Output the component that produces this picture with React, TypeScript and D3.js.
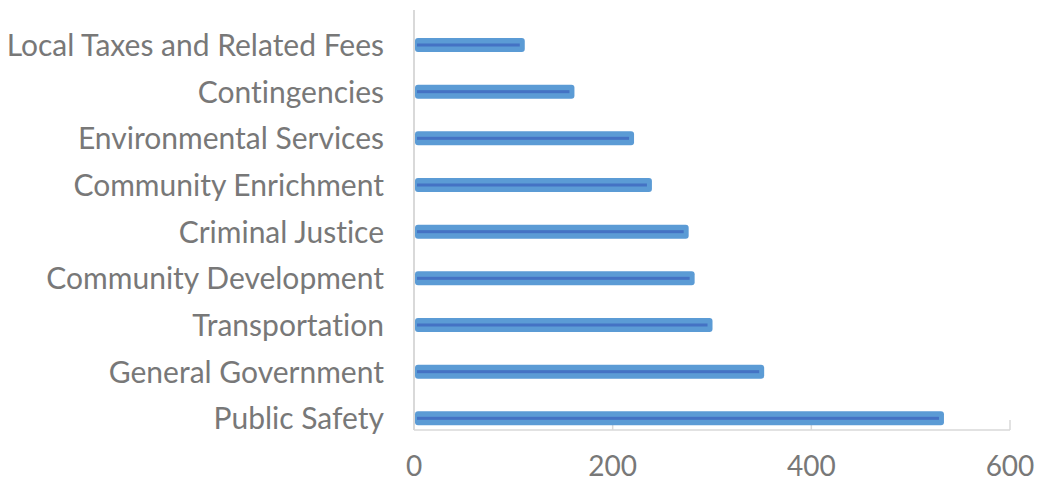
import React from "react";
import * as d3 from "d3";

const categories = [
  "Local Taxes and Related Fees",
  "Contingencies",
  "Environmental Services",
  "Community Enrichment",
  "Criminal Justice",
  "Community Development",
  "Transportation",
  "General Government",
  "Public Safety",
];
const values = [109, 159, 219, 237, 274, 280, 298, 350, 531];
const xTicks = [0, 200, 400, 600];

const W = 1040;
const H = 487;
const left = 414;
const right = 1010;
const top = 10;
const bottom = 430;
const font = "Lato, 'Open Sans', sans-serif";
const textColor = "#787878";

export default function App() {
  const x = d3.scaleLinear().domain([0, 600]).range([left, right]);
  const y = d3.scaleBand<string>().domain(categories).range([top, bottom]).padding(0);
  const bw = y.bandwidth();
  const barH = 14;
  const textStyle: React.CSSProperties = { fontVariantLigatures: "none", fontFeatureSettings: '"liga" 0, "clig" 0' };

  return (
    <svg width={W} height={H} style={{ position: "absolute", left: 0, top: 0 }}>
      {xTicks.slice(1).map((t) => (
        <line key={"tk" + t} x1={x(t)} x2={x(t)} y1={bottom - 10} y2={bottom} stroke="#d9d9d9" strokeWidth={1.5} />
      ))}
      <line x1={left} x2={right} y1={bottom} y2={bottom} stroke="#d9d9d9" strokeWidth={1.5} />
      <line x1={left} x2={left} y1={top} y2={bottom} stroke="#d9d9d9" strokeWidth={2} />
      {categories.map((c, i) => {
        const cy = (y(c) as number) + bw * 0.75;
        const xe = x(values[i]);
        return (
          <g key={c}>
            <rect
              x={left + 1}
              y={cy - barH / 2}
              width={xe + 2.5 - (left + 1)}
              height={barH}
              rx={3}
              fill="#5b9bd5"
            />
            <rect
              x={left + 3}
              y={cy - 1.5}
              width={xe - 2.5 - (left + 3)}
              height={3}
              fill="#4472c4"
            />
            <text
              x={384}
              y={cy - 1}
              textAnchor="end"
              dominantBaseline="central"
              fontFamily={font}
              fontSize={30}
              fill={textColor}
              style={textStyle}
            >
              {c}
            </text>
          </g>
        );
      })}
      {xTicks.map((t) => (
        <text
          key={"xl" + t}
          x={x(t)}
          y={465}
          textAnchor="middle"
          dominantBaseline="central"
          fontFamily={font}
          fontSize={28}
          fill={textColor}
          style={textStyle}
        >
          {t}
        </text>
      ))}
    </svg>
  );
}
